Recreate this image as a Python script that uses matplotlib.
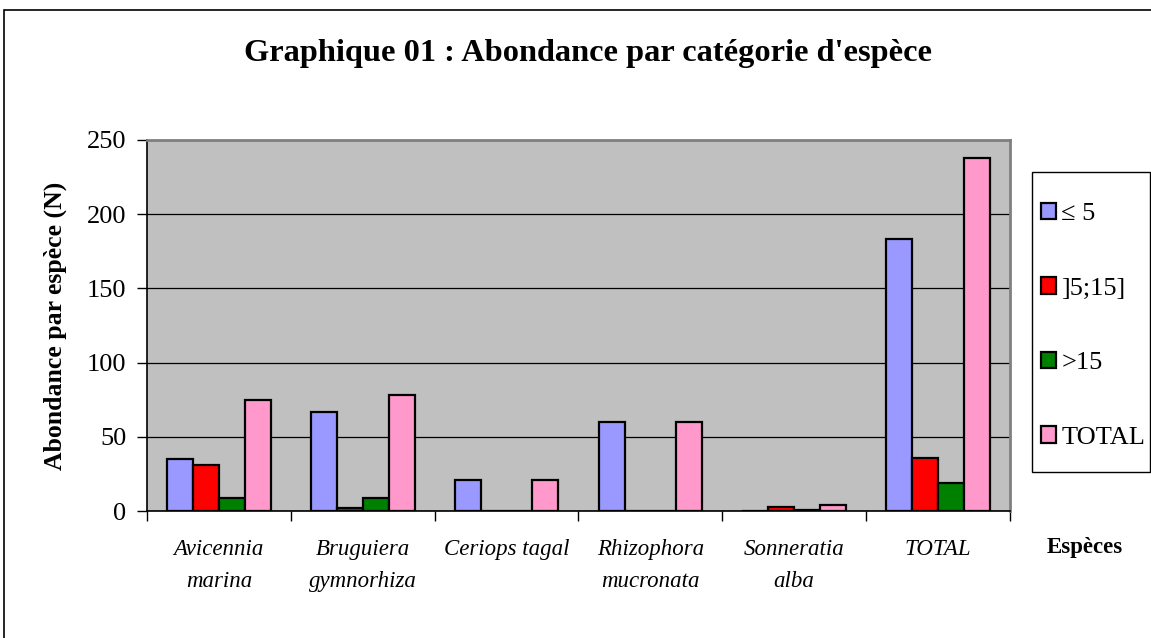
import matplotlib
matplotlib.use("Agg")
import matplotlib.pyplot as plt
import numpy as np
from matplotlib.patches import Rectangle

categories = ["Avicennia\nmarina", "Bruguiera\ngymnorhiza", "Ceriops tagal",
              "Rhizophora\nmucronata", "Sonneratia\nalba", "TOTAL"]
series_names = ["\u2264 5", "]5;15]", ">15", "TOTAL"]
le5 = [35, 67, 21, 60, 0, 183]
s5_15 = [31, 2, 0, 0, 3, 36]
gt15 = [9, 9, 0, 0, 1, 19]
total = [75, 78, 21, 60, 4, 238]
colors = ["#9999FF", "#FF0000", "#008000", "#FF99CC"]

plt.rcParams['font.family'] = ['Liberation Serif', 'DejaVu Serif']

W, H = 1151, 638
fig = plt.figure(figsize=(W/100, H/100), dpi=100)
fig.patch.set_facecolor("white")

# outer frame
fig.patches.append(Rectangle((4/W, -0.05), 1.2, 1 - 10/H + 0.05, transform=fig.transFigure,
                             fill=False, edgecolor="black", linewidth=1.2))

ax = fig.add_axes([147/W, 1 - 511/H, (1010-147)/W, (511-140)/H])
ax.set_facecolor("#C0C0C0")

x = np.arange(len(categories))
bw = 0.18
data = [le5, s5_15, gt15, total]
handles = []
for i, (vals, c, name) in enumerate(zip(data, colors, series_names)):
    h = ax.bar(x + (i - 1.5) * bw, vals, bw, color=c, edgecolor="black",
               linewidth=1.6, label=name, zorder=3)
    handles.append(h)

ax.set_xlim(-0.5, len(categories) - 0.5)
ax.set_ylim(0, 250)
ax.set_yticks([0, 50, 100, 150, 200, 250])
ax.yaxis.grid(True, color="black", linewidth=0.9, zorder=1)
ax.set_axisbelow(True)
ax.tick_params(axis="y", labelsize=19, length=7, direction="out", width=1, pad=8)

ax.set_xticks(np.arange(len(categories) + 1) - 0.5)
ax.set_xticklabels([])
ax.tick_params(axis="x", length=7, direction="out", width=1)
for xi, c in zip(x, categories):
    ax.text(xi, -0.075, c, transform=ax.get_xaxis_transform(), ha="center", va="top",
            fontsize=16.5, style="italic", linespacing=1.72)

for s in ["top", "right"]:
    ax.spines[s].set_color("#808080")
    ax.spines[s].set_linewidth(2)
ax.spines["left"].set_color("black")
ax.spines["left"].set_linewidth(1.2)
ax.spines["bottom"].set_color("black")
ax.spines["bottom"].set_linewidth(1.2)

fig.text(55/W, 1 - 326/H, "Abondance par espèce (N)", rotation=90, ha="center",
         va="center", fontsize=18.5, fontweight="bold")

fig.text(588/W, 1 - 53/H, "Graphique 01 : Abondance par catégorie d'espèce",
         ha="center", va="center", fontsize=23.3, fontweight="bold")
fig.text(1085/W, 1 - 548/H, "Espèces", ha="center", va="center", fontsize=16.5,
         fontweight="bold")

# legend frame
fig.patches.append(Rectangle((1032/W, 1 - 472/H), (1150-1032)/W, (472-172)/H,
                             transform=fig.transFigure, fill=False,
                             edgecolor="black", linewidth=1.0))
leg = fig.legend(handles=handles, labels=series_names, loc="upper left",
                 bbox_to_anchor=(1041/W, 1 - 203/H), fontsize=19, frameon=False,
                 handlelength=0.57, handleheight=0.57, handletextpad=0.2,
                 labelspacing=1.97, borderpad=0, borderaxespad=0)

fig.savefig("out.png", dpi=100)
